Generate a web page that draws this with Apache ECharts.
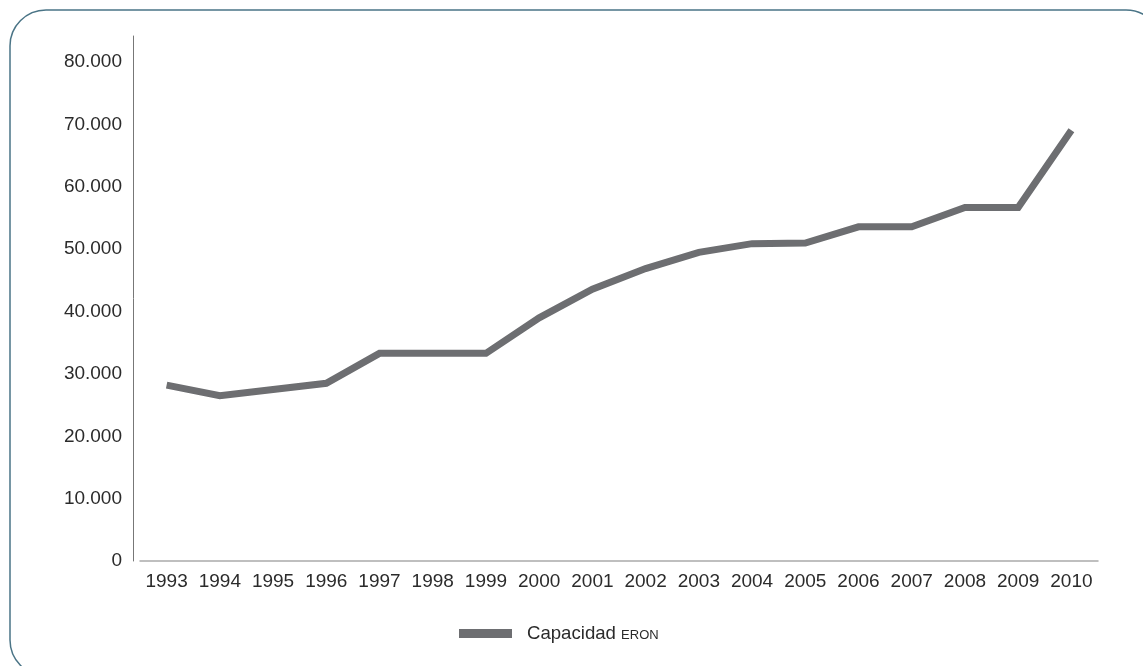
<!DOCTYPE html>
<html>
<head>
<meta charset="utf-8">
<script src="https://cdn.jsdelivr.net/npm/echarts@6/dist/echarts.min.js"></script>
<style>
html,body{margin:0;padding:0;background:#fff;}
#chart{width:1143px;height:666px;}
</style>
</head>
<body>
<div id="chart"></div>
<script>
const years = ['1993','1994','1995','1996','1997','1998','1999','2000','2001','2002','2003','2004','2005','2006','2007','2008','2009','2010'];
const capacidad = [28200, 26500, 27500, 28500, 33300, 33300, 33300, 39000, 43600, 46900, 49500, 50900, 51000, 53600, 53600, 56700, 56700, 69100];
const seriesName = 'Capacidad ERON';

const chart = echarts.init(document.getElementById('chart'));
const fmt = v => {
  if (v === 0) return '0';
  return String(v).replace(/\B(?=(\d{3})+(?!\d))/g, '.');
};
const FONT = 'Liberation Sans, Arial, sans-serif';
chart.setOption({
  animation: false,
  backgroundColor: '#fff',
  graphic: [{
    type: 'rect',
    shape: {x: 10, y: 10, width: 1152, height: 666, r: 36},
    style: {fill: 'none', stroke: '#4a7486', lineWidth: 1.5},
    silent: true
  }],
  grid: {left: 140, right: 45, top: 36, bottom: 105, containLabel: false},
  legend: {
    bottom: 18,
    left: 454,
    icon: 'rect',
    itemWidth: 53,
    itemHeight: 9,
    itemGap: 10,
    data: [seriesName],
    formatter: () => '{a|Capacidad }{b|ERON}',
    textStyle: {
      rich: {
        a: {fontFamily: FONT, fontSize: 18.6, color: '#2b2b2b', padding: [0,0,0,10]},
        b: {fontFamily: FONT, fontSize: 13, color: '#2b2b2b', padding: [4,0,0,0]}
      }
    }
  },
  xAxis: {
    type: 'category',
    data: years,
    boundaryGap: true,
    axisLine: {lineStyle: {color: '#aaaaaa', width: 1.5}},
    axisTick: {show: false},
    axisLabel: {fontFamily: FONT, fontSize: 19, color: '#2b2b2b', margin: 11, interval: 0},
    splitLine: {show: false}
  },
  yAxis: {
    type: 'value',
    min: 0,
    max: 84200,
    interval: 10000,
    offset: 7,
    axisLine: {show: true, lineStyle: {color: '#777', width: 1}},
    axisTick: {show: false},
    splitLine: {show: false},
    axisLabel: {
      fontFamily: FONT, fontSize: 19, color: '#2b2b2b', margin: 11,
      showMaxLabel: false,
      formatter: v => (v % 10000 === 0 ? fmt(v) : '')
    }
  },
  series: [{
    name: seriesName,
    type: 'line',
    data: capacidad,
    symbol: 'none',
    lineStyle: {color: '#6d6e71', width: 7, join: 'miter'},
    itemStyle: {color: '#6d6e71'}
  }]
});
</script>
</body>
</html>
